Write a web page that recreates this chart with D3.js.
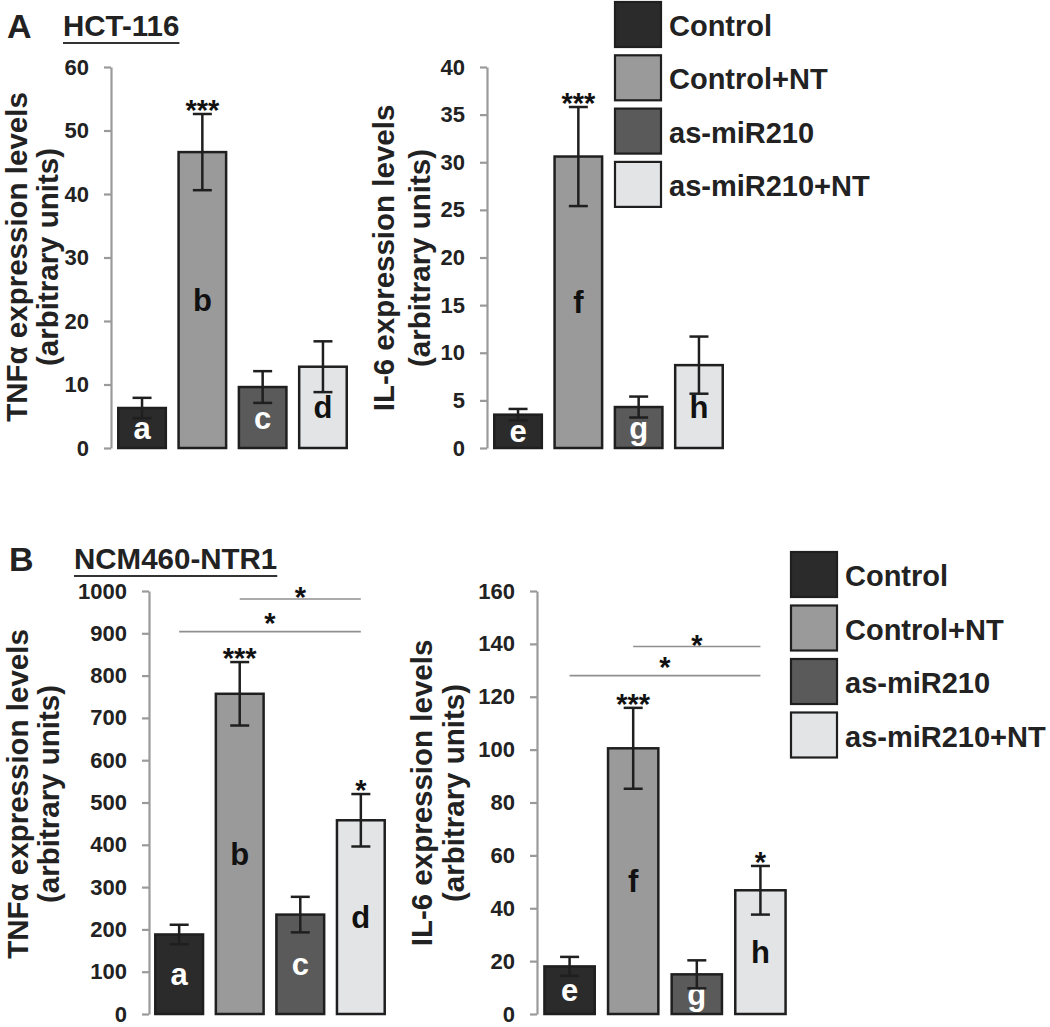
<!DOCTYPE html>
<html><head><meta charset="utf-8">
<script src="https://cdn.jsdelivr.net/npm/d3@7"></script>
<style>
body{margin:0;background:#fff}
svg{display:block}
text{font-family:"Liberation Sans",Arial,Helvetica,sans-serif}
</style>
</head><body>
<svg id="c" width="1050" height="1027"></svg>
<script>
// ---------- DATA ----------
const groups = ["Control", "Control+NT", "as-miR210", "as-miR210+NT"];
const groupColors = ["#2b2b2b", "#9a9a9a", "#5a5a5a", "#e3e4e6"];
const letterColors = ["#ffffff", "#111111", "#ffffff", "#111111"];

// Panel A (HCT-116)
const aTnfLetters = ["a", "b", "c", "d"];
const aTnfValues = [6.3, 46.6, 9.6, 12.8];
const aTnfErrors = [1.6, 6.0, 2.5, 4.0];
const aTnfStars = ["", "***", "", ""];
const aTnfTicks = [0, 10, 20, 30, 40, 50, 60];

const aIl6Letters = ["e", "f", "g", "h"];
const aIl6Values = [3.5, 30.6, 4.3, 8.7];
const aIl6Errors = [0.6, 5.2, 1.1, 3.0];
const aIl6Stars = ["", "***", "", ""];
const aIl6Ticks = [0, 5, 10, 15, 20, 25, 30, 35, 40];

// Panel B (NCM460-NTR1)
const bTnfLetters = ["a", "b", "c", "d"];
const bTnfValues = [188, 757, 235, 458];
const bTnfErrors = [23, 75, 42, 62];
const bTnfStars = ["", "***", "", "*"];
const bTnfTicks = [0, 100, 200, 300, 400, 500, 600, 700, 800, 900, 1000];
const bTnfBrackets = [
  {from: "Control+NT", to: "as-miR210+NT", level: 981, label: "*"},
  {from: "Control", to: "as-miR210+NT", level: 904, label: "*"}
];

const bIl6Letters = ["e", "f", "g", "h"];
const bIl6Values = [18, 100.5, 15, 46.8];
const bIl6Errors = [3.6, 15.3, 5.3, 9.2];
const bIl6Stars = ["", "***", "", "*"];
const bIl6Ticks = [0, 20, 40, 60, 80, 100, 120, 140, 160];
const bIl6Brackets = [
  {from: "Control+NT", to: "as-miR210+NT", level: 139, label: "*"},
  {from: "Control", to: "as-miR210+NT", level: 128, label: "*"}
];

// ---------- DRAWING ----------
const svg = d3.select("#c");
const INK = "#1f1f1f";
const FONT = '"Liberation Sans",Arial,Helvetica,sans-serif';

const panels = [
  {values: aTnfValues, errors: aTnfErrors, stars: aTnfStars, ticks: aTnfTicks, letters: aTnfLetters,
   brackets: [], title: "TNFα expression levels", xr: [114, 351], yr: [448, 67], axisX: 111,
   t1x: 27, t2x: 58, tcy: 257},
  {values: aIl6Values, errors: aIl6Errors, stars: aIl6Stars, ticks: aIl6Ticks, letters: aIl6Letters,
   brackets: [], title: "IL-6 expression levels", xr: [490, 727], yr: [448, 67], axisX: 487,
   t1x: 394, t2x: 430, tcy: 258},
  {values: bTnfValues, errors: bTnfErrors, stars: bTnfStars, ticks: bTnfTicks, letters: bTnfLetters,
   brackets: bTnfBrackets, title: "TNFα expression levels", xr: [151, 389], yr: [1014, 591], axisX: 149,
   t1x: 28, t2x: 59, tcy: 794},
  {values: bIl6Values, errors: bIl6Errors, stars: bIl6Stars, ticks: bIl6Ticks, letters: bIl6Letters,
   brackets: bIl6Brackets, title: "IL-6 expression levels", xr: [540, 790], yr: [1014, 591], axisX: 537,
   t1x: 432, t2x: 464, tcy: 793}
];

panels.forEach(p => {
  const g = svg.append("g");
  const x = d3.scaleBand().domain(groups).range(p.xr).paddingInner(0.17).paddingOuter(0.05);
  const y = d3.scaleLinear().domain([0, d3.max(p.ticks)]).range(p.yr);
  const bw = x.bandwidth();

  // axis
  const ax = g.append("g").attr("transform", `translate(${p.axisX},0)`)
    .call(d3.axisLeft(y).tickValues(p.ticks).tickFormat(d3.format("d"))
      .tickSize(7).tickSizeOuter(0).tickPadding(15));
  ax.select(".domain").attr("stroke", "#9a9a9a").attr("stroke-width", 2.2);
  ax.selectAll(".tick line").attr("stroke", "#9a9a9a").attr("stroke-width", 2.2);
  ax.selectAll(".tick text").attr("fill", "#222").attr("font-family", FONT)
    .attr("font-size", 22).attr("font-weight", "bold");

  // axis titles
  g.append("text").attr("transform", `translate(${p.t1x},${p.tcy}) rotate(-90)`)
    .attr("text-anchor", "middle").attr("font-size", 29.5).attr("font-weight", "bold")
    .attr("fill", "#222").text(p.title);
  g.append("text").attr("transform", `translate(${p.t2x},${p.tcy}) rotate(-90)`)
    .attr("text-anchor", "middle").attr("font-size", 29.5).attr("font-weight", "bold")
    .attr("fill", "#222").text("(arbitrary units)");

  const data = groups.map((k, i) => ({k, i, v: p.values[i], e: p.errors[i], s: p.stars[i], l: p.letters[i]}));

  // bars
  g.selectAll("rect.bar").data(data).enter().append("rect").attr("class", "bar")
    .attr("x", d => x(d.k) + 1.25).attr("width", bw - 2.5)
    .attr("y", d => y(d.v)).attr("height", d => y(0) - y(d.v))
    .attr("fill", d => groupColors[d.i]).attr("stroke", INK).attr("stroke-width", 2.5);

  // letters inside bars
  g.selectAll("text.lt").data(data).enter().append("text").attr("class", "lt")
    .attr("x", d => x(d.k) + bw / 2)
    .attr("y", d => {
      const h = y(0) - y(d.v);
      const c = h < 30 ? y(0) - 15 : y(d.v / 2);
      return c + 11;
    })
    .attr("text-anchor", "middle").attr("font-size", 31).attr("font-weight", "bold")
    .attr("fill", d => letterColors[d.i]).text(d => d.l);

  // error bars
  const eb = g.selectAll("g.eb").data(data).enter().append("g").attr("class", "eb")
    .attr("stroke", INK).attr("stroke-width", 2.5);
  eb.append("line").attr("x1", d => x(d.k) + bw / 2).attr("x2", d => x(d.k) + bw / 2)
    .attr("y1", d => y(d.v - d.e)).attr("y2", d => y(d.v + d.e));
  eb.append("line").attr("x1", d => x(d.k) + bw / 2 - 9.5).attr("x2", d => x(d.k) + bw / 2 + 9.5)
    .attr("y1", d => y(d.v + d.e)).attr("y2", d => y(d.v + d.e));
  eb.append("line").attr("x1", d => x(d.k) + bw / 2 - 9.5).attr("x2", d => x(d.k) + bw / 2 + 9.5)
    .attr("y1", d => y(d.v - d.e)).attr("y2", d => y(d.v - d.e));

  // significance stars above bars
  g.selectAll("text.st").data(data.filter(d => d.s)).enter().append("text").attr("class", "st")
    .attr("x", d => x(d.k) + bw / 2).attr("y", d => y(d.v + d.e) + 6)
    .attr("text-anchor", "middle").attr("font-size", 29).attr("font-weight", "bold")
    .attr("fill", "#111").text(d => d.s);

  // brackets
  p.brackets.forEach((b, bi) => {
    const x1 = x(b.from) + bw / 2, x2 = x(b.to) + bw / 2, yy = y(b.level);
    g.append("line").attr("x1", x1).attr("x2", x2).attr("y1", yy).attr("y2", yy)
      .attr("stroke", "#8f8f8f").attr("stroke-width", 1.6);
    g.append("text").attr("x", (x1 + x2) / 2).attr("y", yy - (bi === 0 ? 9 : 16) + 17)
      .attr("text-anchor", "middle").attr("font-size", 29).attr("font-weight", "bold")
      .attr("fill", "#111").text(b.label);
  });
});

// panel headings
function heading(letter, lx, label, tx, by) {
  svg.append("text").attr("x", lx).attr("y", by).attr("font-size", 34).attr("font-weight", "bold")
    .attr("fill", "#222").text(letter);
  const t = svg.append("text").attr("x", tx).attr("y", by - 2).attr("font-size", 29.5)
    .attr("font-weight", "bold").attr("fill", "#222").text(label);
  const w = t.node().getComputedTextLength();
  svg.append("line").attr("x1", tx).attr("x2", tx + w).attr("y1", by + 5).attr("y2", by + 5)
    .attr("stroke", "#333").attr("stroke-width", 2);
}
heading("A", 7, "HCT-116", 63, 38);
heading("B", 9, "NCM460-NTR1", 74, 571);

// legends
function legend(x0, y0, step) {
  const lg = svg.append("g");
  groups.forEach((k, i) => {
    lg.append("rect").attr("x", x0).attr("y", y0 + i * step).attr("width", 46).attr("height", 45)
      .attr("fill", groupColors[i]).attr("stroke", INK).attr("stroke-width", 2.2);
    lg.append("text").attr("x", x0 + 54).attr("y", y0 + i * step + 34)
      .attr("font-size", 29).attr("font-weight", "bold").attr("fill", "#222").text(k);
  });
}
legend(615, 2, 53.3);
legend(791, 552, 53.5);
</script>
</body></html>
